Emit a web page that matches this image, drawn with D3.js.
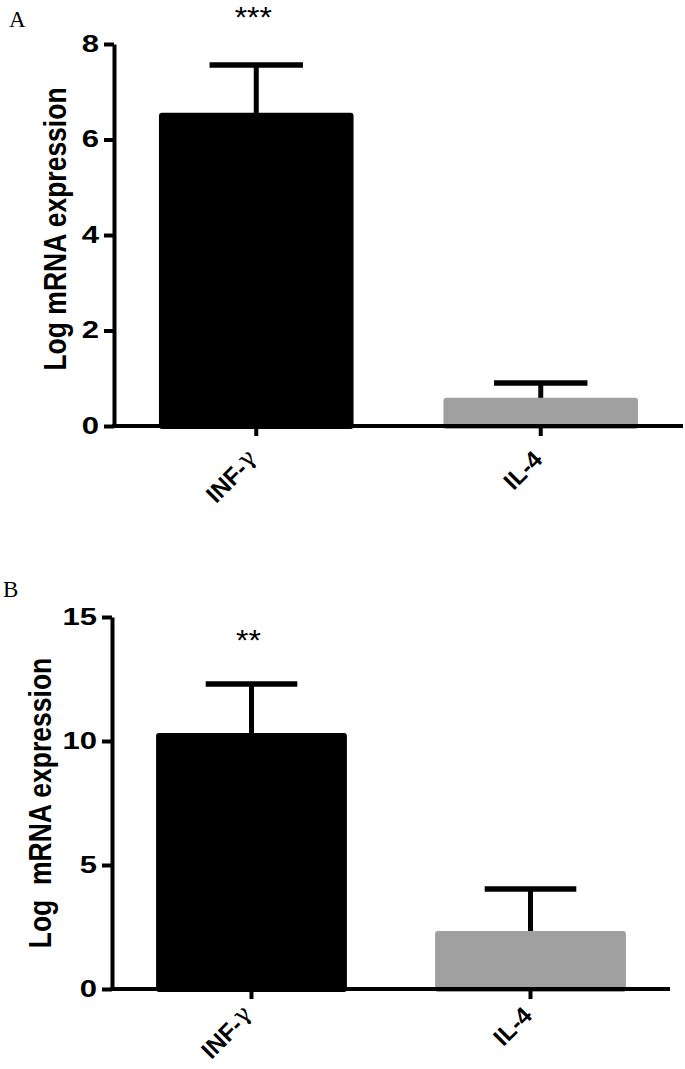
<!DOCTYPE html>
<html>
<head>
<meta charset="utf-8">
<script src="https://cdn.jsdelivr.net/npm/d3@7"></script>
<style>
  body { margin: 0; background: #fff; }
  svg { display: block; }
</style>
</head>
<body>
<div class="chart"></div>
<script>
// Data
const categories = ['INF-γ', 'IL-4'];
const barColors = ['#000000', '#a0a0a0'];

const panelAMean = [6.56, 0.59];
const panelAUpper = [7.56, 0.90];   // mean + error
const panelAStars = ['***', ''];
const panelATicks = [0, 2, 4, 6, 8];

const panelBMean = [10.32, 2.34];
const panelBUpper = [12.30, 4.03];
const panelBStars = ['**', ''];
const panelBTicks = [0, 5, 10, 15];

const sansFont = '"Liberation Sans", Arial, sans-serif';
const svg = d3.select('.chart').append('svg')
  .attr('width', 685).attr('height', 1069);

function drawPanel(cfg) {
  const g = svg.append('g');
  const data = categories.map((c, i) => ({
    cat: c, mean: cfg.mean[i], upper: cfg.upper[i], star: cfg.stars[i], color: barColors[i]
  }));

  const xScale = d3.scaleBand().domain(categories)
    .range([cfg.x0, cfg.x1])
    .paddingInner(0.316).paddingOuter(0.158);
  const yScale = d3.scaleLinear().domain([0, d3.max(cfg.ticks)])
    .range([cfg.y0, cfg.y1]);
  const mid = d => xScale(d.cat) + xScale.bandwidth() / 2;

  // panel letter
  g.append('text').attr('x', cfg.letterX).attr('y', cfg.letterY)
    .style('font-family', '"Liberation Serif", "Times New Roman", serif')
    .style('font-size', '23px').text(cfg.letter);

  // error bars (bar covers the lower part)
  g.selectAll('.err-v').data(data).enter().append('line')
    .attr('x1', mid).attr('x2', mid)
    .attr('y1', d => yScale(d.mean) + 2)
    .attr('y2', d => yScale(d.upper))
    .attr('stroke', '#000').attr('stroke-width', 5);
  g.selectAll('.err-cap').data(data).enter().append('line')
    .attr('x1', d => xScale(d.cat) + xScale.bandwidth() * 0.26)
    .attr('x2', d => xScale(d.cat) + xScale.bandwidth() * 0.74)
    .attr('y1', d => yScale(d.upper))
    .attr('y2', d => yScale(d.upper))
    .attr('stroke', '#000').attr('stroke-width', 5.5);

  g.selectAll('.bar').data(data).enter().append('rect')
    .attr('class', 'bar')
    .attr('x', d => xScale(d.cat))
    .attr('y', d => yScale(d.mean))
    .attr('width', xScale.bandwidth())
    .attr('height', d => yScale(0) - yScale(d.mean) + 3)
    .attr('rx', 3)
    .attr('fill', d => d.color);

  // significance stars
  g.selectAll('.star').data(data).enter().append('text')
    .attr('transform', d => `translate(${mid(d) - 3},${cfg.starY}) scale(1.1,1)`)
    .attr('text-anchor', 'middle')
    .style('font-family', sansFont)
    .style('font-size', '29px')
    .text(d => d.star);

  // y axis
  const yAxis = d3.axisLeft(yScale).tickValues(cfg.ticks)
    .tickSize(10).tickSizeOuter(0).tickPadding(5);
  const yAxisDraw = g.append('g').attr('transform', `translate(${cfg.x0},0)`).call(yAxis);
  yAxisDraw.select('.domain').attr('stroke-width', 4);
  yAxisDraw.selectAll('.tick line').attr('stroke-width', 4);
  yAxisDraw.selectAll('text')
    .attr('x', -15 / 1.35)
    .attr('transform', 'scale(1.35,1)')
    .style('font-family', sansFont)
    .style('font-weight', 'bold').style('font-size', '23px').attr('fill', '#000');

  // x axis
  const xAxis = d3.axisBottom(xScale).tickSize(10).tickSizeOuter(0).tickFormat('');
  const xAxisDraw = g.append('g').attr('transform', `translate(0,${cfg.y0})`).call(xAxis);
  xAxisDraw.select('.domain').attr('stroke-width', 4)
    .attr('d', `M${cfg.x0 - 2},0H${cfg.x1}`);
  xAxisDraw.selectAll('.tick line').attr('stroke-width', 4);

  // rotated category labels
  const labels = g.selectAll('.xlab').data(data).enter().append('text')
    .attr('transform', d => `translate(${mid(d) + 3},${cfg.y0 + cfg.labelDrop}) rotate(-45)`)
    .attr('text-anchor', 'end')
    .style('font-family', sansFont)
    .style('font-weight', 'bold').style('font-size', '24px');
  labels.each(function(d) {
    const t = d3.select(this);
    if (d.cat.endsWith('γ')) {
      t.append('tspan').text(d.cat.slice(0, -1));
      t.append('tspan').text('γ')
        .style('font-family', '"DejaVu Serif", serif')
        .style('font-weight', 'normal').attr('dy', -3);
    } else {
      t.text(d.cat);
    }
  });

  // y label
  g.append('text')
    .attr('transform', `translate(${cfg.labelX},${cfg.labelY}) scale(1.2,1) rotate(-90)`)
    .attr('text-anchor', 'middle')
    .style('font-family', sansFont)
    .style('font-weight', 'bold').style('font-size', '26.5px')
    .style('white-space', 'pre')
    .text(cfg.yLabel);
}

drawPanel({
  letter: 'A', letterX: 9, letterY: 27,
  mean: panelAMean, upper: panelAUpper, stars: panelAStars, ticks: panelATicks,
  x0: 114, x1: 683, y0: 426, y1: 44, starY: 27, labelDrop: 35,
  labelX: 66, labelY: 229, yLabel: 'Log mRNA expression'
});

drawPanel({
  letter: 'B', letterX: 3, letterY: 597,
  mean: panelBMean, upper: panelBUpper, stars: panelBStars, ticks: panelBTicks,
  x0: 112, x1: 670, y0: 989, y1: 617, starY: 650, labelDrop: 28,
  labelX: 51, labelY: 803, yLabel: 'Log  mRNA expression'
});
</script>
</body>
</html>
